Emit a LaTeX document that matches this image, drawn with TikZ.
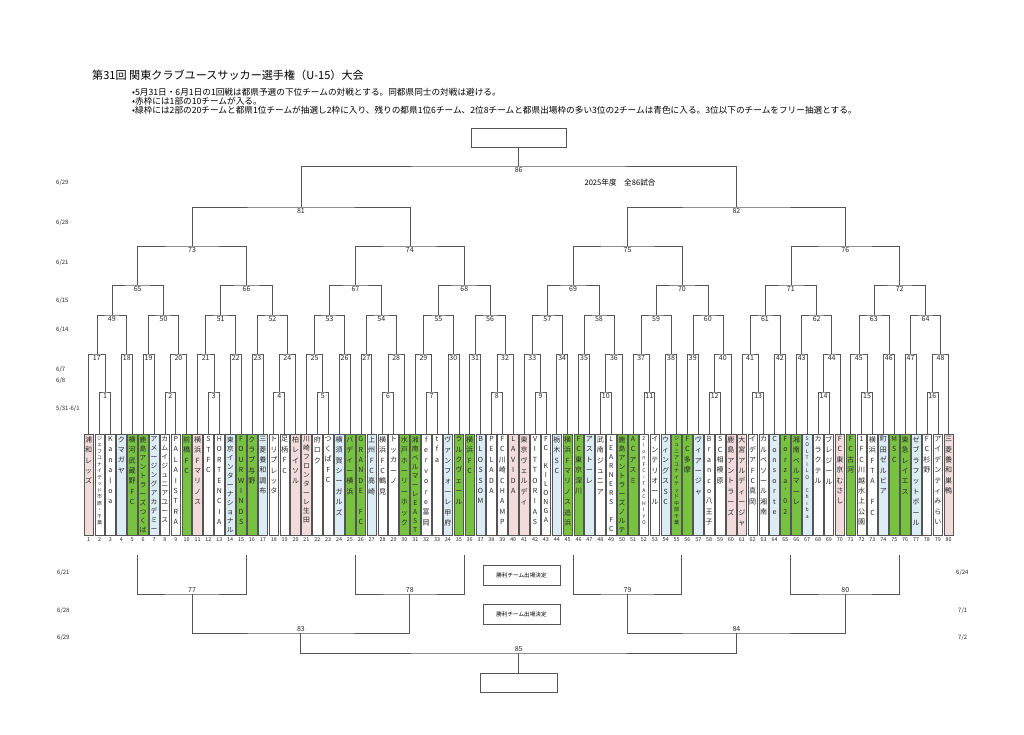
\documentclass[tikz,border=0pt]{standalone}
\usepackage{fontspec}
\setmainfont{Noto Sans CJK JP}
\usetikzlibrary{positioning, calc}
\definecolor{mypink}{RGB}{242,219,219}
\definecolor{mygreen}{RGB}{120,194,66}
\definecolor{myblue}{RGB}{219,236,245}
\definecolor{myline}{RGB}{85,85,85}
\definecolor{mydark}{RGB}{40,40,40}
\tikzset{
  teambox/.style={rectangle, draw=myline, line width=0.5pt,
    minimum width=9.6pt, minimum height=101pt, inner sep=0pt},
  tatetext/.style={inner sep=0pt, text=mydark},
  tn/.style={font=\fontsize{7pt}{10.4pt}\selectfont},
  tm/.style={font=\fontsize{6.8pt}{9pt}\selectfont},
  ts/.style={font=\fontsize{5pt}{6.5pt}\selectfont},
  numlbl/.style={inner sep=0pt, font=\fontsize{5.4pt}{6pt}\selectfont, text=mydark},
  mlabel/.style={inner sep=1pt, font=\fontsize{7pt}{8pt}\selectfont, text=mydark},
  bline/.style={line width=0.6pt, color=myline},
  lowline/.style={line width=1pt, color=myline},
  resultbox/.style={rectangle, draw=myline, line width=0.8pt, minimum height=19pt},
  notebox/.style={rectangle, draw=myline, line width=0.8pt, minimum width=77pt,
    minimum height=20pt, font=\fontsize{5.6pt}{6pt}\selectfont},
  datetext/.style={anchor=west, inner sep=0pt, font=\fontsize{6pt}{6pt}\selectfont, text=mydark},
  titletext/.style={anchor=west, inner sep=0pt, font=\fontsize{11.1pt}{12pt}\selectfont},
  rowtext/.style={anchor=west, inner sep=0pt, font=\fontsize{8.65pt}{9pt}\selectfont}
}
% vertical text, one character per line
\newcommand\tate[1]{\vtop{\expandafter\tateloop#1\relax}}
\def\tateloop#1{\ifx#1\relax\else\hbox to 1em{\hss#1\hss}\expandafter\tateloop\fi}
% one match: number, two entries, line level, label side, line style
\newcommand\bout[6][bline]{%
  \path let \p1=(#3), \p2=(#4), \p3=(0,#5) in coordinate (m#2) at ({0.5*\x1+0.5*\x2},\y3);
  \draw[#1] (#3) |- (m#2) -| (#4);
  \node[mlabel, #6] (l#2) at (m#2) {#2};
}

\begin{document}
\begin{tikzpicture}[x=1pt, y=-1pt]
  \path[use as bounding box, fill=white] (0,0) rectangle (1024,735);

  % header
  \node[titletext] (title) at (92,75) {第31回 関東クラブユースサッカー選手権（U-15）大会};
  \node[rowtext] (row1) at (132,92) {•5月31日・6月1日の1回戦は都県予選の下位チームの対戦とする。同都県同士の対戦は避ける。};
  \node[rowtext] (row2) at (132,101) {•赤枠には1部の10チームが入る。};
  \node[rowtext] (row3) at (132,110) {•緑枠には2部の20チームと都県1位チームが抽選し2枠に入り、残りの都県1位6チーム、2位8チームと都県出場枠の多い3位の2チームは青色に入る。3位以下のチームをフリー抽選とする。};
  \node[rowtext, anchor=center, font=\fontsize{7.6pt}{8pt}\selectfont] (total) at (620,183) {2025年度　全86試合};

  % teams
  \foreach \nm/\fc/\sz [count=\i] in {
    浦和レッズ/mypink/tn, ジェフユナイテッド市原・千葉/white/ts, Kanaloa/white/tn,
    クマガヤ/myblue/tn, 横河武蔵野FC/mygreen/tn, 鹿島アントラーズつくば/mygreen/tm,
    アメージングアカデミー/myblue/tm, カムイジュニアユース/white/tm, PALAISTRA/white/tn,
    前橋FC/mygreen/tn, 横浜Fマリノス/mypink/tn, STFC/white/tn, HORTENCIA/white/tn,
    東京インターナショナル/myblue/tm, FOURWINDS/mygreen/tn, クラブ与野/mygreen/tn,
    三菱養和調布/myblue/tn, トリプレッタ/white/tn, 足柄FC/white/tn, 柏レイソル/mypink/tn,
    川崎フロンターレ生田/mypink/tm, 府ロク/white/tn, つくばFC/white/tn,
    横須賀シーガルズ/myblue/tn, バディー横浜/mygreen/tn, GRANDE~FC/mygreen/tn,
    上州FC高崎/myblue/tn, 横浜FC鶴見/white/tn, トッカーノ/white/tn,
    水戸ホーリーホック/mygreen/tn, 湘南ベルマーレEAST/mygreen/tm, fervore富岡/white/tn,
    tfa/white/tn, ヴァンフォーレ甲府/myblue/tn, ラルクヴェール/mygreen/tn, 横浜FC/mygreen/tn,
    BLOSSOM/myblue/tn, PELADA/white/tn, FC川崎CHAMP/white/tn, LAVIDA/mypink/tn,
    東京ヴェルディ/mypink/tn, VITTORIAS/white/tn, FC~KILONGA/white/tm, 栃木SC/myblue/tn,
    横浜Fマリノス追浜/mygreen/tn, FC東京深川/mygreen/tn, アストーレ/myblue/tn,
    武南ジュニア/white/tn, LEARNERS~FC/white/tm, 鹿島アントラーズノルテ/mygreen/tm,
    ACアスミ/mygreen/tn, ZionFC・TACHIYO/white/ts, インテリオール/white/tn,
    ウィングスSC/myblue/tn, ジュニアユナイテッド中部千葉/mygreen/ts, FC多摩/mygreen/tn,
    ヴィアージャ/myblue/tn, Branco八王子/white/tn, SC相模原/white/tn,
    鹿島アントラーズ/mypink/tn, 大宮アルディージャ/mypink/tn, イデアFC真岡/white/tn,
    カルペソール湘南/white/tn, Consorte/myblue/tn, Forza'02/mygreen/tn,
    湘南ベルマーレ/mygreen/tn, SOLTILO~Chiba/myblue/ts, カラクテル/white/tn,
    ブレジール/white/tn, FC東京むさし/mypink/tn, FC古河/mygreen/tn,
    1FC川越水上公園/white/tn, 横浜FTA~FC/white/tn, 町田ゼルビア/myblue/tn, MSC/mygreen/tn,
    東急レイエス/mygreen/tn, ゼブラフットボール/myblue/tn, FC杉野/white/tn,
    アイデンティみらい/white/tn, 三菱養和巣鴨/mypink/tn}{
    \node[teambox, fill=\fc] (t\i) at ({77.8+10.886*\i},484.5) {};
    \node[tatetext, \sz, below=2.5pt of t\i.north] (n\i) {\tate{\nm}};
    \node[numlbl, below=2.5pt of t\i.south] (k\i) {\i};
  }

  % upper bracket
  \foreach \k/\a/\b in {1/t2/t3, 2/t8/t9, 3/t12/t13, 4/t18/t19, 5/t22/t23, 6/t28/t29,
    7/t32/t33, 8/t38/t39, 9/t42/t43, 10/t48/t49, 11/t52/t53, 12/t58/t59,
    13/t62/t63, 14/t68/t69, 15/t72/t73, 16/t78/t79}
    {\bout{\k}{\a}{\b}{392}{below}}
  \foreach \k/\a/\b in {17/t1/m1, 18/t4/t5, 19/t6/t7, 20/m2/t10,
    21/t11/m3, 22/t14/t15, 23/t16/t17, 24/m4/t20,
    25/t21/m5, 26/t24/t25, 27/t26/t27, 28/m6/t30,
    29/t31/m7, 30/t34/t35, 31/t36/t37, 32/m8/t40,
    33/t41/m9, 34/t44/t45, 35/t46/t47, 36/m10/t50,
    37/t51/m11, 38/t54/t55, 39/t56/t57, 40/m12/t60,
    41/t61/m13, 42/t64/t65, 43/t66/t67, 44/m14/t70,
    45/t71/m15, 46/t74/t75, 47/t76/t77, 48/m16/t80}
    {\bout{\k}{\a}{\b}{354}{below}}
  \foreach \lo/\hi/\yy in {49/64/315, 65/72/285, 73/76/246}{
    \foreach \k in {\lo,...,\hi}{
      \pgfmathtruncatemacro\ca{2*\k-81}
      \pgfmathtruncatemacro\cb{2*\k-80}
      \bout{\k}{m\ca}{m\cb}{\yy}{below}
    }
  }
  \bout{81}{m73}{m74}{207}{below}
  \bout{82}{m75}{m76}{207}{below}
  \bout{86}{m81}{m82}{166}{below}
  \node[resultbox, minimum width=95pt, above=18pt of m86] (champ) {};
  \draw[bline] (m86) -- (champ);

  % lower bracket
  \foreach \k in {65,...,72}
    {\path let \p1=(m\k), \p2=(0,555) in coordinate (d\k) at (\x1,\y2);}
  \bout[lowline]{77}{d65}{d66}{594}{above}
  \bout[lowline]{78}{d67}{d68}{594}{above}
  \bout[lowline]{79}{d69}{d70}{594}{above}
  \bout[lowline]{80}{d71}{d72}{594}{above}
  \bout[lowline]{83}{m77}{m78}{633}{above}
  \bout[lowline]{84}{m79}{m80}{633}{above}
  \bout[lowline]{85}{m83}{m84}{653}{above}
  \node[resultbox, minimum width=77pt, below=20pt of m85] (final) {};
  \draw[lowline] (m85) -- (final);
  \node[notebox] (win1) at (521.5,575) {勝利チーム出場決定};
  \node[notebox] (win2) at (521.5,614) {勝利チーム出場決定};

  % dates
  \node[datetext] (d629) at (56,183) {6/29};
  \node[datetext] (d628) at (56,223) {6/28};
  \node[datetext] (d621) at (56,263) {6/21};
  \node[datetext] (d615) at (56,301) {6/15};
  \node[datetext] (d614) at (56,330) {6/14};
  \node[datetext] (d607) at (56,370) {6/7};
  \node[datetext] (d608) at (56,381) {6/8};
  \node[datetext] (d531) at (56,409) {5/31-6/1};
  \node[datetext] (e621) at (57,573) {6/21};
  \node[datetext] (e628) at (57,611) {6/28};
  \node[datetext] (e629) at (57,638) {6/29};
  \node[datetext] (e624) at (956,573) {6/24};
  \node[datetext] (e701) at (958,611) {7/1};
  \node[datetext] (e702) at (958,638) {7/2};
\end{tikzpicture}
\end{document}
